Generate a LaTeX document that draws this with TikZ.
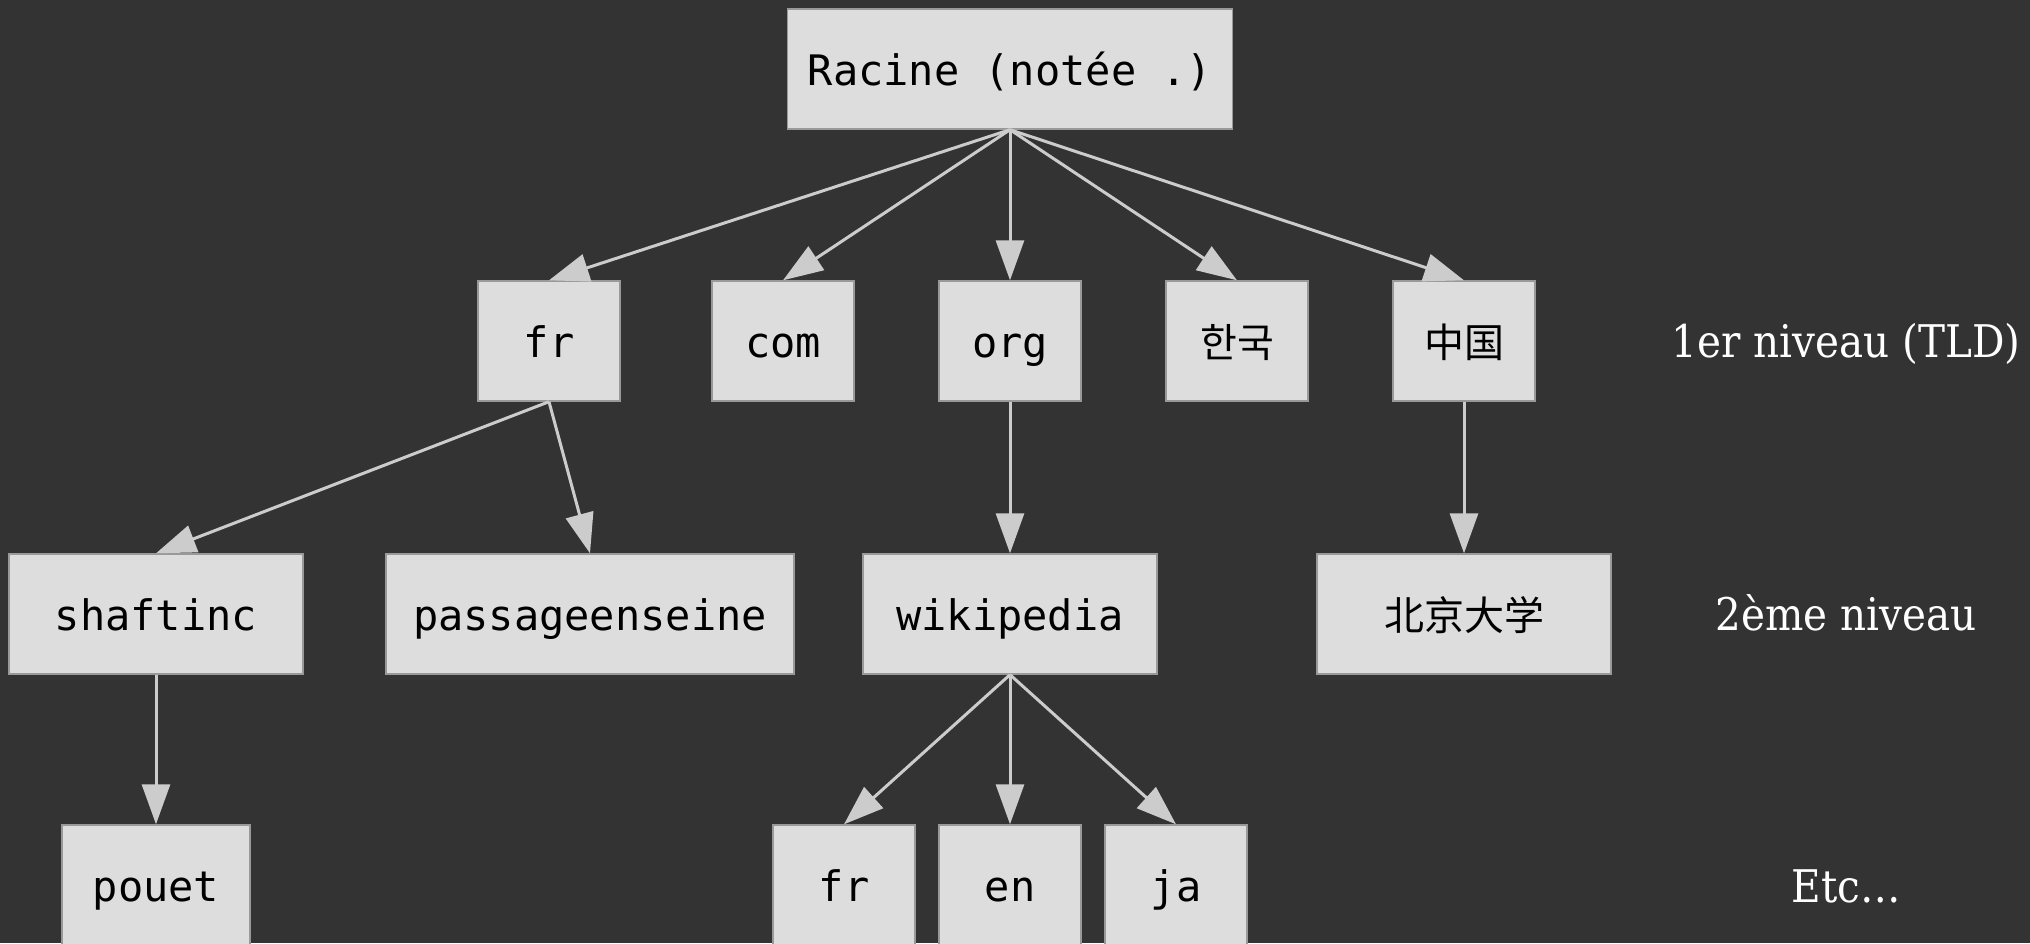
\documentclass[tikz,border=0pt]{standalone}
\usepackage{fontspec}
\setmonofont{DejaVu Sans Mono}
\newfontfamily\lblfont[FakeStretch=0.9]{DejaVu Serif}
\newfontfamily\cjksc{Noto Sans CJK SC}
\newfontfamily\cjkkr{Noto Sans CJK KR}
\usetikzlibrary{arrows.meta}
\definecolor{bg}{HTML}{333333}
\definecolor{boxfill}{HTML}{DDDDDD}
\definecolor{boxline}{HTML}{999999}
\definecolor{edge}{HTML}{CCCCCC}
\begin{document}
\begin{tikzpicture}[x=0.5pt,y=-0.5pt,
  dnsbox/.style={draw=boxline,fill=boxfill,line width=0.7pt,minimum height=60pt,inner sep=0pt,
    text height=20pt,text depth=4pt,
    font=\ttfamily\fontsize{21}{25}\selectfont,text=black},
  lvl/.style={font=\lblfont\fontsize{22.5}{27}\selectfont,text=white,text height=20pt,text depth=4pt,inner sep=0pt},
  edg/.style={draw=edge,line width=1.5pt,-{Triangle[length=20pt,width=14pt]}}]
\fill[bg] (0,0) rectangle (2030,943);
\useasboundingbox (0,0) rectangle (2030,943);
% root
\node[dnsbox,minimum width=222.5pt] (root) at (1010,69) {Racine (notée .)};
% level 1
\node[dnsbox,minimum width=71pt] (fr) at (549,341) {fr};
\node[dnsbox,minimum width=71pt] (com) at (783,341) {com};
\node[dnsbox,minimum width=71pt] (org) at (1010,341) {org};
\node[dnsbox,minimum width=71pt,font=\cjkkr\fontsize{20}{24}\selectfont] (kr) at (1237,341) {한국};
\node[dnsbox,minimum width=71pt,font=\cjksc\fontsize{20}{24}\selectfont] (cn) at (1464,341) {中国};
% level 2
\node[dnsbox,minimum width=147pt] (shaft) at (156,614) {shaftinc};
\node[dnsbox,minimum width=204pt] (passage) at (590,614) {passageenseine};
\node[dnsbox,minimum width=147pt] (wiki) at (1010,614) {wikipedia};
\node[dnsbox,minimum width=147pt,font=\cjksc\fontsize{20}{24}\selectfont] (pku) at (1464,614) {北京大学};
% level 3
\node[dnsbox,minimum width=94pt] (pouet) at (156,885) {pouet};
\node[dnsbox,minimum width=71pt] (wfr) at (844,885) {fr};
\node[dnsbox,minimum width=71pt] (wen) at (1010,885) {en};
\node[dnsbox,minimum width=71pt] (wja) at (1176,885) {ja};
% level labels
\node[lvl] (l1) at (1846,341) {1er niveau (TLD)};
\node[lvl] (l2) at (1846,614) {2ème niveau};
\node[lvl] (l3) at (1846,886) {Etc…};
% edges
\draw[edg] (root.south) -- (fr.north);
\draw[edg] (root.south) -- (com.north);
\draw[edg] (root.south) -- (org.north);
\draw[edg] (root.south) -- (kr.north);
\draw[edg] (root.south) -- (cn.north);
\draw[edg] (fr.south) -- (shaft.north);
\draw[edg] (fr.south) -- (passage.north);
\draw[edg] (org.south) -- (wiki.north);
\draw[edg] (cn.south) -- (pku.north);
\draw[edg] (shaft.south) -- (pouet.north);
\draw[edg] (wiki.south) -- (wfr.north);
\draw[edg] (wiki.south) -- (wen.north);
\draw[edg] (wiki.south) -- (wja.north);
\end{tikzpicture}
\end{document}
